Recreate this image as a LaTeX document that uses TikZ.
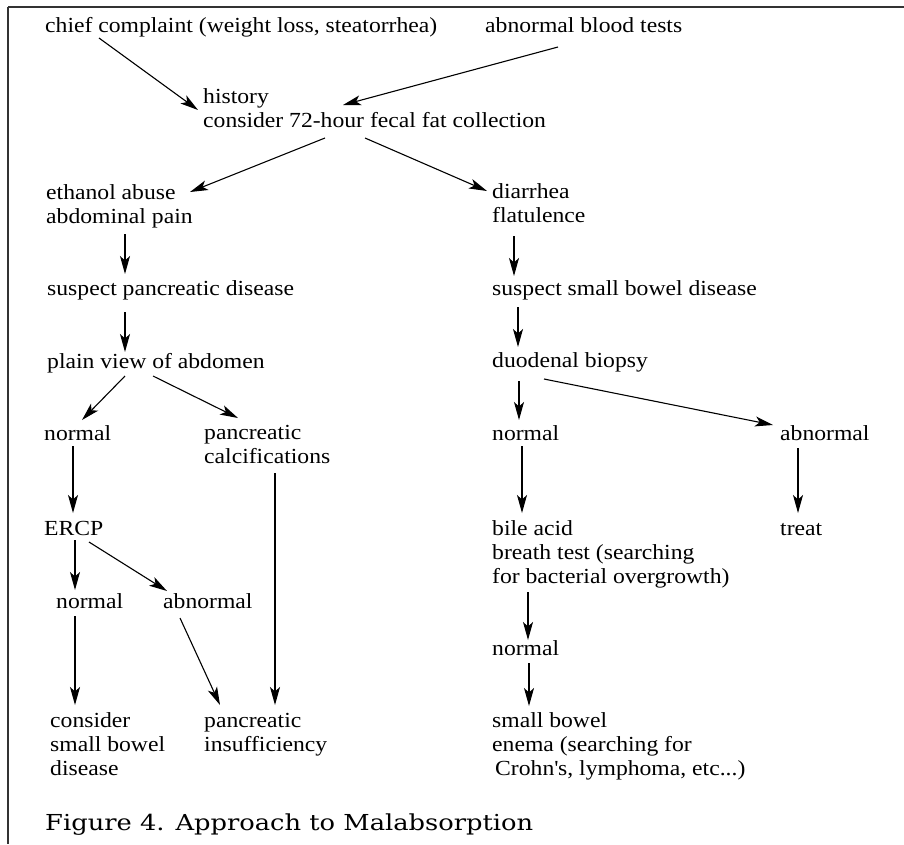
\documentclass[tikz,border=0pt]{standalone}
\usepackage{fontspec}
\setmainfont{Liberation Serif}[FakeStretch=1.1]
\newfontfamily\captionfont{DejaVu Serif}[FakeStretch=1.17]
\usetikzlibrary{arrows.meta}

\begin{document}
\begin{tikzpicture}[
    x=1pt, y=-1pt,
    font=\fontsize{21.5}{24}\selectfont,
    % --- Styles ---
    step text/.style={anchor=base west, inner sep=0pt, align=left},
    arrow/.style={line width=1.1pt, -{Stealth[length=18pt, width=10pt, inset=4.5pt]}},
    frame/.style={line width=1.6pt, draw=black!80}
]

    \useasboundingbox (0,0) rectangle (904,844);

    % ── FRAME ───────────────────────────────────────────────────────────
    \draw [frame] (8,7) -- (904,7);
    \draw [frame] (8,7) -- (8,844);

    % ── NODES ───────────────────────────────────────────────────────────
    % (multi-line nodes sit on the baseline of their last line)

    % Presentation
    \node (chief) [step text] at (45,32) {chief complaint (weight loss, steatorrhea)};
    \node (blood) [step text] at (485,32) {abnormal blood tests};
    \node (hist)  [step text] at (203,127) {history\\consider 72-hour fecal fat collection};

    % Pancreatic branch
    \node (ethanol)  [step text] at (46,223) {ethanol abuse\\abdominal pain};
    \node (suspP)    [step text] at (47,295) {suspect pancreatic disease};
    \node (plain)    [step text] at (47,368) {plain view of abdomen};
    \node (normA)    [step text] at (44,440) {normal};
    \node (calc)     [step text] at (204,463) {pancreatic\\calcifications};
    \node (ercp)     [step text] at (44,535) {ERCP};
    \node (normC)    [step text] at (56,608) {normal};
    \node (abnC)     [step text] at (163,608) {abnormal};
    \node (consider) [step text] at (50,775) {consider\\small bowel\\disease};
    \node (insuff)   [step text] at (204,751) {pancreatic\\insufficiency};

    % Small bowel branch
    \node (diarr) [step text] at (492,222) {diarrhea\\flatulence};
    \node (suspS) [step text] at (492,295) {suspect small bowel disease};
    \node (duod)  [step text] at (492,367) {duodenal biopsy};
    \node (normB) [step text] at (492,440) {normal};
    \node (abnB)  [step text] at (780,440) {abnormal};
    \node (bile)  [step text] at (492,583) {bile acid\\breath test (searching\\for bacterial overgrowth)};
    \node (treat) [step text] at (780,535) {treat};
    \node (normD) [step text] at (492,655) {normal};
    \node (small) [step text] at (492,775) {small bowel\\enema (searching for\\\hspace*{3pt}Crohn\textquotesingle s, lymphoma, etc...)};

    % Caption
    \node (caption) [step text, font=\captionfont\fontsize{22}{24}\selectfont] at (45,830)
        {Figure 4. Approach to Malabsorption};

    % ── ARROWS ──────────────────────────────────────────────────────────

    \draw [arrow] ([shift={(54,6)}]chief.base west)   -- ([shift={(-5,-17)}]hist.base west);
    \draw [arrow] ([shift={(73,15)}]blood.base west)  -- ([shift={(140,-22)}]hist.base west);
    \draw [arrow] ([shift={(122,11)}]hist.base west)  -- ([shift={(144,-31)}]ethanol.base west);
    \draw [arrow] ([shift={(162,11)}]hist.base west)  -- ([shift={(-5,-31)}]diarr.base west);

    % pancreatic side
    \draw [arrow] ([shift={(79,11)}]ethanol.base west) -- ([shift={(78,-21)}]suspP.base west);
    \draw [arrow] ([shift={(78,17)}]suspP.base west)   -- ([shift={(78,-16)}]plain.base west);
    \draw [arrow] ([shift={(78,8)}]plain.base west)    -- ([shift={(38,-20)}]normA.base west);
    \draw [arrow] ([shift={(106,8)}]plain.base west)   -- ([shift={(34,-45)}]calc.base west);
    \draw [arrow] ([shift={(29,6)}]normA.base west)    -- ([shift={(29,-22)}]ercp.base west);
    \draw [arrow] ([shift={(31,5)}]ercp.base west)     -- ([shift={(19,-18)}]normC.base west);
    \draw [arrow] ([shift={(45,7)}]ercp.base west)     -- ([shift={(4,-17)}]abnC.base west);
    \draw [arrow] ([shift={(19,8)}]normC.base west)    -- ([shift={(25,-70)}]consider.base west);
    \draw [arrow] ([shift={(17,10)}]abnC.base west)    -- ([shift={(16,-46)}]insuff.base west);
    \draw [arrow] ([shift={(71,10)}]calc.base west)    -- ([shift={(71,-46)}]insuff.base west);

    % small bowel side
    \draw [arrow] ([shift={(22,14)}]diarr.base west)  -- ([shift={(22,-19)}]suspS.base west);
    \draw [arrow] ([shift={(26,12)}]suspS.base west)  -- ([shift={(26,-20)}]duod.base west);
    \draw [arrow] ([shift={(27,14)}]duod.base west)   -- ([shift={(27,-20)}]normB.base west);
    \draw [arrow] ([shift={(52,12)}]duod.base west)   -- ([shift={(-7,-15)}]abnB.base west);
    \draw [arrow] ([shift={(30,6)}]normB.base west)   -- ([shift={(30,-70)}]bile.base west);
    \draw [arrow] ([shift={(18,8)}]abnB.base west)    -- ([shift={(18,-22)}]treat.base west);
    \draw [arrow] ([shift={(36,9)}]bile.base west)    -- ([shift={(36,-15)}]normD.base west);
    \draw [arrow] ([shift={(37,8)}]normD.base west)   -- ([shift={(37,-69)}]small.base west);

\end{tikzpicture}
\end{document}
